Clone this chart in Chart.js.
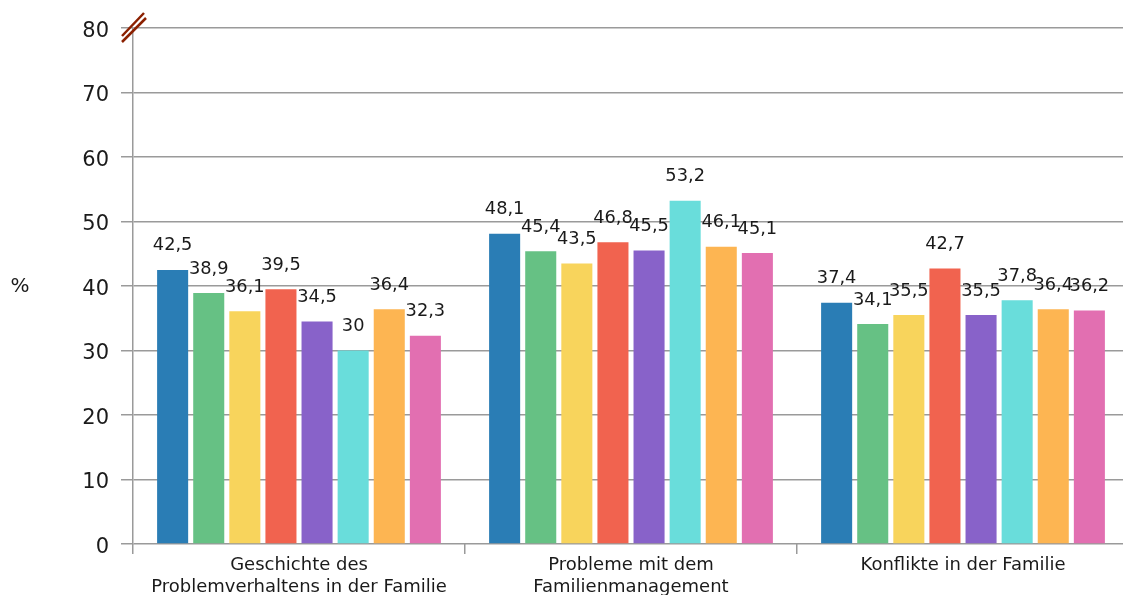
<!DOCTYPE html>
<html>
<head>
<meta charset="utf-8">
<script src="https://cdn.jsdelivr.net/npm/chart.js@4/dist/chart.umd.min.js"></script>
<style>
  html, body { margin: 0; padding: 0; background: #fff; overflow: hidden; }
  #wrap { position: absolute; left: 0; top: 0; width: 1129px; height: 595px; }
</style>
</head>
<body>
<div id="wrap"><canvas id="chart" width="1129" height="595"></canvas></div>
<script>
// Kategorien und Werte
const categories = [
  ['Geschichte des', 'Problemverhaltens in der Familie'],
  ['Probleme mit dem', 'Familienmanagement'],
  ['Konflikte in der Familie']
];
const series1 = [42.5, 48.1, 37.4];
const series2 = [38.9, 45.4, 34.1];
const series3 = [36.1, 43.5, 35.5];
const series4 = [39.5, 46.8, 42.7];
const series5 = [34.5, 45.5, 35.5];
const series6 = [30.0, 53.2, 37.8];
const series7 = [36.4, 46.1, 36.4];
const series8 = [32.3, 45.1, 36.2];
const yTicks = [0, 10, 20, 30, 40, 50, 60, 70, 80];

const colors = ['#2a7db5', '#66c184', '#f8d45c', '#f1634f', '#8862c9', '#69dddb', '#fdb552', '#e26fb1'];
const allSeries = [series1, series2, series3, series4, series5, series6, series7, series8];

const fmt = v => v.toString().replace('.', ',');

// Werte über den Balken
const valueLabels = {
  id: 'valueLabels',
  afterDatasetsDraw(chart) {
    const ctx = chart.ctx;
    ctx.save();
    ctx.font = '17.8px "DejaVu Sans"';
    ctx.fillStyle = '#1a1a1a';
    ctx.textAlign = 'center';
    ctx.textBaseline = 'middle';
    chart.data.datasets.forEach((ds, i) => {
      chart.getDatasetMeta(i).data.forEach((bar, j) => {
        ctx.fillText(fmt(ds.data[j]), bar.x, bar.y - 24);
      });
    });
    ctx.restore();
  }
};

// Achsenbruch-Zeichen und "%"-Titel
const extras = {
  id: 'extras',
  afterDraw(chart) {
    const ctx = chart.ctx;
    const x = chart.scales.y.right;
    const y = chart.chartArea.top;
    ctx.save();
    ctx.strokeStyle = '#8b2000';
    ctx.lineWidth = 2.5;
    ctx.beginPath();
    ctx.moveTo(x - 11, y + 8);
    ctx.lineTo(x + 11, y - 15);
    ctx.moveTo(x - 11, y + 14);
    ctx.lineTo(x + 13, y - 10);
    ctx.stroke();
    ctx.fillStyle = '#1a1a1a';
    ctx.font = '20px "DejaVu Sans"';
    ctx.textAlign = 'center';
    ctx.textBaseline = 'middle';
    ctx.fillText('%', 20, (chart.chartArea.top + chart.chartArea.bottom) / 2 + 1);
    ctx.restore();
  }
};

new Chart(document.getElementById('chart'), {
  type: 'bar',
  data: {
    labels: categories,
    datasets: allSeries.map((d, i) => ({
      data: d,
      backgroundColor: colors[i],
      borderWidth: 0,
      categoryPercentage: 0.87,
      barPercentage: 0.86
    }))
  },
  options: {
    responsive: false,
    animation: false,
    layout: { padding: { top: 28, left: 0, right: 0, bottom: 0 } },
    plugins: { legend: { display: false }, tooltip: { enabled: false } },
    scales: {
      x: {
        afterFit: s => { s.height = 51; },
        grid: { offset: true, drawOnChartArea: false, tickLength: 10, color: '#9a9a9a', lineWidth: 1.5 },
        border: { display: false },
        ticks: {
          color: '#1a1a1a',
          padding: 0,
          maxRotation: 0,
          autoSkip: false,
          font: { family: 'DejaVu Sans', size: 18, lineHeight: 1.22 }
        }
      },
      y: {
        min: 0,
        max: 80,
        afterFit: s => { s.width = 133; },
        afterBuildTicks: s => { s.ticks = yTicks.map(v => ({ value: v })); },
        grid: { color: '#9a9a9a', lineWidth: 1.5, tickLength: 12 },
        border: { color: '#9a9a9a', width: 1.5 },
        ticks: {
          color: '#1a1a1a',
          padding: 12,
          labelOffset: 3.5,
          font: { family: 'DejaVu Sans', size: 21 }
        }
      }
    }
  },
  plugins: [valueLabels, extras]
});
</script>
</body>
</html>
